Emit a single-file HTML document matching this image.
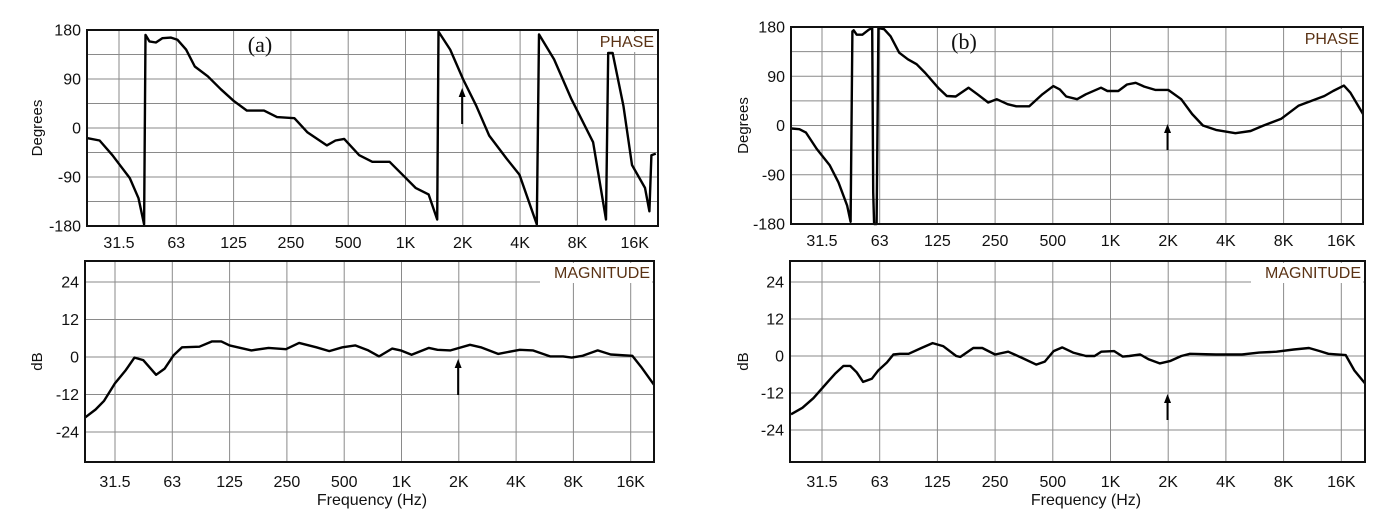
<!DOCTYPE html>
<html><head><meta charset="utf-8"><style>
html,body{margin:0;padding:0;background:#fff;width:1376px;height:524px;overflow:hidden}
svg{display:block}
text{font-family:"Liberation Sans",sans-serif}
text.serif{font-family:"Liberation Serif",serif}
</style></head><body>
<svg id="svg" width="1376" height="524" viewBox="0 0 1376 524"></svg>
<script>
const freqTickLabels = ["31.5","63","125","250","500","1K","2K","4K","8K","16K"];
const phaseTickLabels = [180,90,0,-90,-180];
const magTickLabels = [24,12,0,-12,-24];

const phaseAFreq = [21.4,24.9,29.1,35.9,39.9,42.7,43.4,45.5,49.2,53.2,59.1,63.9,70.9,78.8,92.2,108,126,148,182,213,263,308,389,432,480,576,675,832,973,1139,1333,1479,1503,1730,2026,2371,2775,3421,4004,4933,5068,6082,7497,9749,11404,11709,12342,14065,15611,18270,19262,19750,20815];
const phaseADeg = [-18.5,-23,-50,-92,-129,-177,171,159,157,165,166,162,144,113,95,71,50,32,32,20,18,-8,-32,-23,-20,-50,-62,-62,-86,-110,-122,-168,177,144,89,41,-14,-56,-86,-177,172,126,53,-26,-168,138,138,41,-68,-110,-153,-50,-47];

const magAFreq = [21.9,24.9,27.6,31.5,35.9,39.9,44.3,51.8,57.5,63.9,70.9,87.4,102,114,126,164,202,249,292,360,421,493,576,675,769,900,998,1139,1404,1558,1823,2308,2631,3244,4217,4936,6082,7118,7900,9009,10820,12663,16443,18270,21389];
const magADb = [-19.4,-16.8,-14,-8.4,-4.2,-0.2,-1,-5.7,-3.7,0.5,3.1,3.3,5,5,3.7,2.1,2.9,2.5,4.5,3.1,1.9,3.1,3.7,2.1,0.2,2.7,2.1,0.7,2.9,2.3,2.1,3.9,3.1,1,2.3,2.1,0.2,0.2,-0.2,0.4,2.1,0.8,0.4,-3.1,-8.9];

const phaseBFreq = [21.9,24,26,29.6,34.6,38.4,42.6,44.4,45.4,46.1,47.8,51.2,55.3,57.6,58.3,58.9,60.7,62,66.4,71.8,79.6,88.4,98.1,109,127,141,157,183,204,232,257,293,325,380,445,507,548,592,675,749,899,971,1107,1229,1364,1513,1724,2016,2358,2686,3060,3576,4522,5428,6345,7818,9630,11255,13167,14607,16640,17993,19968,21593];
const phaseBDeg = [-5.5,-6.7,-13,-43,-73,-104,-146,-176,172,174,166,166,175,178,-122,-180,-180,178,176,163,133,121,112,96,69,54,53,69,57,42,48,39,35,35,57,72,66,53,48,57,69,63,63,75,78,71,65,65,48,21,0,-8,-14,-10,0,12,36,45,54,63,73,60,33,21];

const magBFreq = [21.7,24.9,28.4,33.2,36.8,40.8,44.2,47.8,51.6,57.3,61.9,68.7,74.3,80.3,89.1,104,119,135,158,166,194,216,252,295,345,413,458,509,565,643,751,833,901,1054,1169,1264,1440,1598,1820,2073,2360,2618,3576,4886,6015,7405,9119,10940,12455,13817,17010,18879,21502];
const magBDb = [-18.9,-16.8,-13.7,-8.9,-5.8,-3.2,-3.2,-5.3,-8.4,-7.4,-4.7,-2.1,0.5,0.7,0.7,2.6,4.2,3.2,0,-0.3,2.6,2.6,0.5,1.4,-0.5,-2.8,-1.8,1.6,2.8,1.1,0,0,1.4,1.6,-0.2,0,0.5,-1.1,-2.4,-1.6,0,0.7,0.5,0.5,1.1,1.4,2.1,2.6,1.6,0.7,0.3,-4.7,-8.9];

const NS="http://www.w3.org/2000/svg";
const svg=document.getElementById('svg');
function mk(tag,attrs,parent){const e=document.createElementNS(NS,tag);for(const k in attrs)e.setAttribute(k,attrs[k]);(parent||svg).appendChild(e);return e;}

function panel(cfg){
  const g=mk('g',{});
  
  
  const {L,R,T,B,x315,oct,yOf,vmin,vmax,gridStep}=cfg;
  const xOf=f=>x315+oct*Math.log2(f/31.5);
  for(let v=vmin;v<=vmax+1e-9;v+=gridStep){
    const y=yOf(v); if(y<=T+1||y>=B-1)continue;
    const l=mk('line',{x1:L,x2:R,y1:y,y2:y,stroke:'#8a8a8a','stroke-width':1},g);
    
    
  }
  freqTickLabels.forEach((lab,i)=>{
    const x=xOf(31.5*Math.pow(2,i));
    const l=mk('line',{x1:x,x2:x,y1:T,y2:B,stroke:'#8a8a8a','stroke-width':1},g);
    
    
    const t=mk('text',{x:x,y:cfg.xLabY,'font-size':16,'text-anchor':'middle',fill:'#111'},g);
    t.textContent=lab;
    
    
  });
  cfg.yTicks.forEach(v=>{
    const t=mk('text',{x:L-6,y:yOf(v)+5.5,'font-size':16,'text-anchor':'end',fill:'#111'},g);
    t.textContent=v;
    
    
  });
  const tb=mk('rect',{x:R-cfg.titleW-4,y:T+2,width:cfg.titleW+2,height:20,fill:'#fff'},g);
  
  
  const tt=mk('text',{x:R-4,y:T+17,'font-size':16,'text-anchor':'end',fill:'#5a3214'},g);
  tt.textContent=cfg.title;
  
  
  const yt=mk('text',{x:cfg.yTitleX,y:(T+B)/2,'font-size':15,'text-anchor':'middle',fill:'#111',transform:`rotate(-90 ${cfg.yTitleX} ${(T+B)/2})`},g);
  yt.textContent=cfg.yTitle;
  
  
  const pts=cfg.freq.map((f,i)=>`${Math.max(L,Math.min(R,xOf(f))).toFixed(1)},${yOf(cfg.vals[i]).toFixed(1)}`).join(' ');
  const pl=mk('polyline',{points:pts,fill:'none',stroke:'#000','stroke-width':2.4,'stroke-linejoin':'round'},g);
  
  
  const fr=mk('rect',{x:L,y:T,width:R-L,height:B-T,fill:'none',stroke:'#111','stroke-width':2},g);
  
  
  const ax=xOf(cfg.arrowF);
  const ar=mk('line',{x1:ax,x2:ax,y1:cfg.arrowY1,y2:cfg.arrowY2+6,stroke:'#000','stroke-width':2},g);
  
  
  const ah=mk('polygon',{points:`${ax-3.5},${cfg.arrowY2+9} ${ax+3.5},${cfg.arrowY2+9} ${ax},${cfg.arrowY2}`,fill:'#000'},g);
  
  
  if(cfg.xTitleX){
    const xt=mk('text',{x:cfg.xTitleX,y:505,'font-size':16,'text-anchor':'middle',fill:'#111'},g);
    xt.textContent='Frequency (Hz)';
    
    
  }
  if(cfg.tag){
    const lt=mk('text',{x:cfg.tagX,y:T+22,'font-size':22,'text-anchor':'middle',fill:'#111','class':'serif'},g);
    lt.textContent=cfg.tag;
    
    
  }
}
panel({name:'phase-chart-a',L:87,R:658,T:30,B:226,x315:119,oct:57.3,yOf:v=>128+(-v)*98/180,vmin:-180,vmax:180,gridStep:45,yTicks:phaseTickLabels,xLabY:248,title:'PHASE',titleW:66,yTitle:'Degrees',yTitleX:42,freq:phaseAFreq,vals:phaseADeg,seriesName:'phase-curve-a',arrowF:2000,arrowY1:124,arrowY2:88,tag:'(a)',tagX:260});
panel({name:'magnitude-chart-a',L:85,R:654,T:261,B:462,x315:115,oct:57.3,yOf:v=>357-v*37.5/12,vmin:-36,vmax:36,gridStep:12,yTicks:magTickLabels,xLabY:487,title:'MAGNITUDE',titleW:110,yTitle:'dB',yTitleX:42,freq:magAFreq,vals:magADb,seriesName:'magnitude-curve-a',arrowF:2000,arrowY1:395,arrowY2:359,xTitleX:372});
panel({name:'phase-chart-b',L:791,R:1363,T:27,B:224,x315:822,oct:57.7,yOf:v=>125.5+(-v)*98.5/180,vmin:-180,vmax:180,gridStep:45,yTicks:phaseTickLabels,xLabY:246,title:'PHASE',titleW:66,yTitle:'Degrees',yTitleX:748,freq:phaseBFreq,vals:phaseBDeg,seriesName:'phase-curve-b',arrowF:2000,arrowY1:150,arrowY2:124,tag:'(b)',tagX:964});
panel({name:'magnitude-chart-b',L:790,R:1365,T:261,B:462,x315:822,oct:57.7,yOf:v=>356-v*37/12,vmin:-36,vmax:36,gridStep:12,yTicks:magTickLabels,xLabY:487,title:'MAGNITUDE',titleW:110,yTitle:'dB',yTitleX:748,freq:magBFreq,vals:magBDb,seriesName:'magnitude-curve-b',arrowF:2000,arrowY1:420,arrowY2:394,xTitleX:1086});
</script>
</body></html>
